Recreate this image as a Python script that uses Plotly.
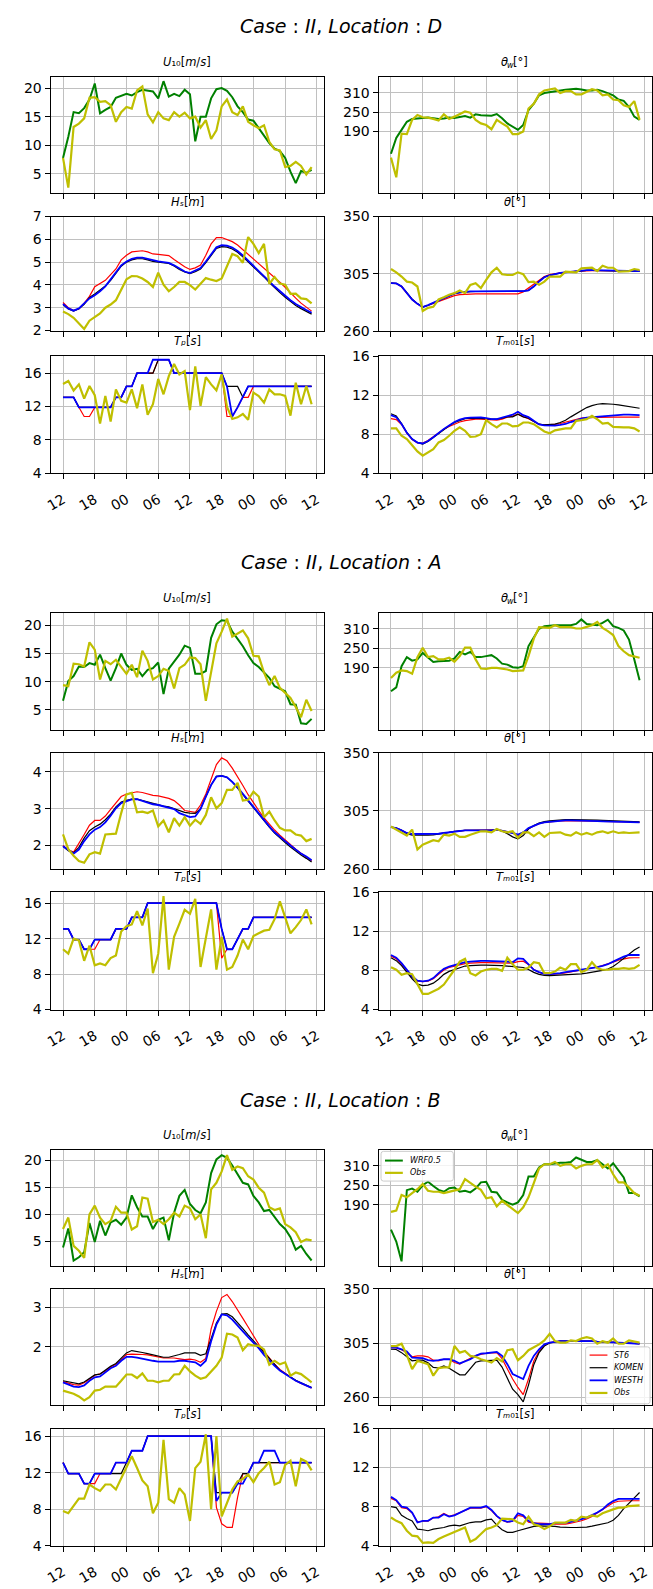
import plotly.graph_objects as go

# ---------------------------------------------------------------- time axis
HOURS = list(range(48))
TICK_HOURS = [0, 6, 12, 18, 24, 30, 36, 42, 48]
TICK_LABELS = ["12", "18", "00", "06", "12", "18", "00", "06", "12"]

# ---------------------------------------------------------------- Location D
D_u10_wrf = [7.8, 11.5, 15.8, 15.6, 16.5, 18.0, 20.8, 15.6, 16.2, 16.7,
             18.3, 18.6, 19.0, 18.7, 19.3, 19.7, 19.5, 19.4, 18.2, 21.2,
             18.5, 19.0, 18.6, 19.7, 18.9, 10.7, 15.0, 15.0, 18.2, 19.8,
             20.0, 19.5, 18.4, 16.8, 15.8, 14.5, 14.3, 13.0, 11.6, 10.4,
             9.4, 9.0, 7.8, 5.4, 3.4, 5.5, 5.2, 5.7]
D_u10_obs = [7.8, 2.6, 13.2, 13.8, 14.7, 18.3, 18.4, 17.6, 17.7, 17.0,
             14.1, 15.8, 16.7, 16.4, 19.6, 20.3, 15.4, 14.0, 15.8, 14.7,
             14.4, 15.8, 15.0, 15.7, 14.7, 15.0, 13.1, 14.4, 11.1, 12.6,
             16.8, 18.0, 15.8, 15.3, 16.8, 14.1, 13.5, 13.0, 13.5, 10.6,
             9.3, 9.1, 6.2, 6.4, 7.1, 6.4, 4.9, 6.2]
D_thw_wrf = [121, 170, 195, 220, 229, 230, 233, 233, 231, 229,
             230, 233, 232, 234, 238, 233, 243, 240, 239, 239,
             244, 231, 215, 205, 195, 210, 256, 276, 302, 309,
             312, 315, 317, 319, 321, 322, 320, 317, 317, 319,
             315, 309, 302, 289, 285, 266, 236, 226]
D_thw_obs = [109, 48, 183, 182, 226, 241, 234, 233, 229, 224,
             243, 229, 236, 244, 252, 248, 226, 215, 210, 197,
             226, 215, 205, 182, 182, 190, 261, 276, 305, 317,
             321, 323, 309, 315, 315, 305, 305, 313, 321, 317,
             302, 305, 289, 287, 271, 266, 284, 226]
D_hs_st6 = [3.23, 3.0, 2.88, 2.95, 3.2, 3.5, 3.92, 4.05, 4.2, 4.45,
            4.7, 5.1, 5.3, 5.45, 5.48, 5.5, 5.45, 5.36, 5.34, 5.3,
            5.29, 5.12, 4.95, 4.8, 4.68, 4.75, 4.87, 5.3, 5.8, 6.08,
            6.08, 6.0, 5.9, 5.75, 5.55, 5.35, 5.15, 4.95, 4.75, 4.55,
            4.35, 4.12, 3.9, 3.65, 3.42, 3.2, 3.02, 2.85]
D_hs_komen = [3.14, 2.95, 2.85, 2.95, 3.15, 3.45, 3.6, 3.76, 3.95, 4.2,
              4.5, 4.82, 5.0, 5.1, 5.15, 5.15, 5.1, 5.03, 5.0, 4.97,
              4.94, 4.83, 4.68, 4.57, 4.5, 4.58, 4.7, 4.98, 5.3, 5.6,
              5.68, 5.66, 5.58, 5.43, 5.23, 5.02, 4.8, 4.58, 4.35, 4.1,
              3.87, 3.66, 3.46, 3.27, 3.1, 2.96, 2.84, 2.72]
D_hs_westh = [3.16, 2.97, 2.87, 2.97, 3.19, 3.41, 3.55, 3.72, 3.94, 4.23,
              4.54, 4.86, 5.03, 5.14, 5.2, 5.2, 5.14, 5.07, 5.03, 5.0,
              4.97, 4.86, 4.71, 4.59, 4.52, 4.62, 4.74, 5.03, 5.36, 5.65,
              5.75, 5.72, 5.64, 5.49, 5.29, 5.07, 4.86, 4.64, 4.40, 4.16,
              3.93, 3.72, 3.52, 3.33, 3.16, 3.02, 2.90, 2.78]
D_hs_obs = [2.83, 2.72, 2.56, 2.32, 2.07, 2.43, 2.58, 2.75, 3.0, 3.14,
            3.33, 3.77, 4.25, 4.39, 4.38, 4.28, 4.13, 3.91, 4.54, 4.01,
            3.72, 3.91, 4.13, 4.13, 3.99, 3.8, 4.06, 4.3, 4.23, 4.17,
            4.28, 4.86, 5.36, 5.26, 4.97, 6.1, 5.8, 5.4, 5.8, 4.05,
            4.35, 4.06, 4.01, 3.61, 3.62, 3.41, 3.38, 3.19]
D_th_st6 = [297.8, 297.5, 295.0, 290.0, 285.0, 281.5, 279.0, 280.3, 281.8, 283.5,
            285.0, 286.5, 288.0, 288.8, 289.2, 289.3, 289.4, 289.4, 289.4, 289.3,
            289.3, 289.3, 289.4, 289.4, 289.4, 291.0, 294.0, 297.0, 300.0, 303.0,
            304.5, 305.3, 306.0, 306.5, 306.8, 307.1, 307.4, 307.6, 307.7, 307.7,
            307.7, 307.6, 307.5, 307.4, 307.4, 307.3, 307.2, 307.2]
D_th_komen = [297.9, 297.7, 295.5, 290.5, 285.3, 281.8, 279.2, 280.5, 282.2, 284.0,
              286.0, 287.8, 289.5, 290.4, 291.0, 291.2, 291.3, 291.3, 291.3, 291.3,
              291.3, 291.3, 291.3, 291.3, 291.3, 291.5, 292.2, 295.3, 299.2, 302.6,
              304.0, 305.0, 305.7, 306.2, 306.7, 307.2, 307.6, 307.8, 307.8, 307.7,
              307.6, 307.5, 307.4, 307.3, 307.2, 307.2, 307.1, 307.0]
D_th_westh = [297.8, 297.6, 295.2, 290.0, 285.0, 281.6, 279.0, 280.6, 282.4, 284.2,
              286.2, 288.0, 289.8, 290.6, 291.2, 291.4, 291.4, 291.4, 291.4, 291.4,
              291.4, 291.4, 291.4, 291.4, 291.4, 291.6, 292.2, 295.2, 299.0, 302.5,
              304.0, 305.0, 305.8, 306.3, 306.8, 307.3, 307.8, 308.0, 308.0, 307.9,
              307.8, 307.7, 307.6, 307.5, 307.5, 307.4, 307.3, 307.2]
D_th_obs = [308.9, 306.3, 303.0, 299.0, 298.3, 295.2, 276.0, 278.5, 279.3, 285.0,
            286.8, 288.8, 290.0, 292.0, 290.0, 296.5, 297.8, 294.0, 300.4, 306.3,
            309.9, 304.8, 304.2, 304.2, 306.3, 304.8, 298.6, 299.0, 296.5, 299.0,
            303.0, 303.0, 303.0, 306.8, 306.8, 306.3, 309.4, 309.4, 309.9, 307.3,
            311.4, 309.9, 309.9, 306.8, 307.3, 307.3, 308.9, 308.1]
D_tp_st6 = [13.1, 13.1, 13.1, 11.9, 10.8, 10.8, 11.9, 11.9, 11.9, 11.9,
            13.1, 13.1, 14.4, 14.4, 16.0, 16.0, 16.0, 16.0, 17.6, 17.6,
            17.6, 16.0, 16.0, 16.0, 16.0, 16.0, 16.0, 16.0, 16.0, 16.0,
            16.0, 10.8, 10.8, 11.9, 13.1, 13.1, 14.4, 14.4, 14.4, 14.4,
            14.4, 14.4, 14.4, 14.4, 14.4, 14.4, 14.4, 14.4]
D_tp_komen = [13.1, 13.1, 13.1, 11.9, 11.9, 11.9, 11.9, 11.9, 11.9, 11.9,
              13.1, 13.1, 14.4, 14.4, 16.0, 16.0, 16.0, 16.0, 17.6, 17.6,
              17.6, 16.0, 16.0, 16.0, 16.0, 16.0, 16.0, 16.0, 16.0, 16.0,
              16.0, 14.4, 14.4, 14.4, 13.1, 14.4, 14.4, 14.4, 14.4, 14.4,
              14.4, 14.4, 14.4, 14.4, 14.4, 14.4, 14.4, 14.4]
D_tp_westh = [13.1, 13.1, 13.1, 11.9, 11.9, 11.9, 11.9, 11.9, 11.9, 11.9,
              13.1, 13.1, 14.4, 14.4, 16.0, 16.0, 16.0, 17.6, 17.6, 17.6,
              17.6, 16.0, 16.0, 16.0, 16.0, 16.0, 16.0, 16.0, 16.0, 16.0,
              16.0, 14.4, 10.8, 11.9, 13.1, 14.4, 14.4, 14.4, 14.4, 14.4,
              14.4, 14.4, 14.4, 14.4, 14.4, 14.4, 14.4, 14.4]
D_tp_obs = [14.7, 15.05, 13.9, 14.65, 12.95, 14.45, 13.35, 9.97, 13.26, 10.2,
            14.05, 12.67, 12.47, 14.05, 11.8, 14.65, 11.0, 12.27, 15.3, 13.46,
            15.64, 17.1, 15.84, 16.24, 11.56, 16.8, 12.07, 15.52, 14.65, 13.94,
            15.84, 11.95, 10.5, 10.7, 11.1, 10.4, 13.66, 13.26, 12.47, 14.05,
            13.46, 13.46, 13.26, 10.9, 14.85, 12.27, 14.45, 12.27]
D_tm_st6 = [9.6, 9.5, 9.0, 8.1, 7.45, 7.1, 7.1, 7.35, 7.75, 8.15,
            8.5, 8.8, 9.05, 9.25, 9.4, 9.5, 9.55, 9.55, 9.5, 9.45,
            9.45, 9.55, 9.75, 9.85, 10.05, 9.8, 9.6, 9.3, 9.0, 8.95,
            8.95, 9.0, 9.1, 9.25, 9.4, 9.55, 9.65, 9.7, 9.72, 9.75,
            9.75, 9.75, 9.75, 9.75, 9.75, 9.75, 9.75, 9.75]
D_tm_komen = [10.1, 9.88, 9.1, 8.18, 7.5, 7.16, 7.0, 7.26, 7.67, 8.1,
              8.5, 8.86, 9.2, 9.44, 9.6, 9.64, 9.64, 9.64, 9.6, 9.54,
              9.54, 9.64, 9.78, 9.78, 10.05, 9.78, 9.64, 9.3, 9.03, 8.96,
              8.96, 9.03, 9.2, 9.44, 9.78, 10.1, 10.45, 10.73, 10.93, 11.07,
              11.13, 11.13, 11.07, 11.0, 10.9, 10.8, 10.73, 10.66]
D_tm_westh = [9.95, 9.75, 9.05, 8.15, 7.5, 7.15, 7.05, 7.3, 7.7, 8.15,
              8.55, 8.9, 9.25, 9.5, 9.65, 9.7, 9.72, 9.72, 9.65, 9.55,
              9.55, 9.7, 9.9, 10.0, 10.3, 9.95, 9.75, 9.35, 9.0, 8.9,
              8.88, 8.88, 8.95, 9.05, 9.25, 9.45, 9.6, 9.7, 9.75, 9.8,
              9.85, 9.9, 9.95, 10.0, 10.0, 10.0, 9.98, 9.95]
D_tm_obs = [8.6, 8.6, 7.84, 7.5, 6.88, 6.24, 5.8, 6.14, 6.48, 7.16,
            7.4, 7.84, 8.35, 8.7, 8.35, 7.74, 7.77, 8.0, 9.44, 9.03,
            8.7, 9.1, 9.1, 8.8, 8.86, 9.2, 9.2, 9.03, 8.7, 8.28,
            8.1, 8.4, 8.5, 8.6, 8.6, 9.37, 9.44, 9.54, 9.88, 9.54,
            9.1, 9.16, 8.75, 8.7, 8.7, 8.7, 8.6, 8.28]

# ---------------------------------------------------------------- Location A
A_u10_wrf = [6.6, 10.1, 11.0, 12.7, 12.6, 13.3, 13.0, 14.8, 12.4, 10.2,
             12.4, 15.0, 13.0, 12.1, 12.3, 11.0, 12.1, 12.4, 13.4, 7.8,
             12.3, 13.6, 14.8, 16.4, 16.0, 11.4, 11.4, 11.9, 17.8, 20.2,
             20.9, 20.8, 18.9, 17.6, 16.3, 14.7, 13.3, 12.6, 11.6, 10.7,
             9.2, 8.8, 8.3, 6.0, 5.9, 2.6, 2.5, 3.4]
A_u10_obs = [9.4, 9.2, 13.2, 13.1, 12.7, 17.0, 15.7, 10.4, 13.7, 13.1,
             13.9, 12.6, 11.4, 13.0, 10.8, 15.5, 13.7, 10.4, 11.0, 12.3,
             11.9, 8.8, 12.4, 13.0, 14.3, 14.2, 13.1, 6.6, 11.6, 16.8,
             18.9, 21.2, 18.0, 18.6, 19.1, 17.7, 14.6, 14.5, 11.6, 9.4,
             11.0, 8.9, 8.0, 7.1, 5.5, 3.7, 6.8, 4.8]
A_thw_wrf = [118, 130, 195, 223, 212, 216, 236, 223, 208, 210,
             210, 212, 219, 239, 231, 239, 223, 223, 226, 229,
             219, 203, 200, 192, 190, 195, 257, 282, 310, 318,
             320, 321, 321, 321, 321, 325, 339, 325, 323, 321,
             328, 338, 318, 313, 305, 277, 216, 152]
A_thw_obs = [159, 175, 182, 180, 172, 223, 252, 223, 226, 216,
             216, 221, 209, 226, 252, 252, 216, 188, 187, 190,
             190, 188, 185, 180, 180, 182, 226, 280, 315, 313,
             313, 321, 315, 315, 315, 311, 311, 316, 321, 331,
             313, 303, 291, 257, 241, 229, 225, 221]
A_hs_st6 = [2.0, 1.88, 1.82, 2.05, 2.3, 2.55, 2.68, 2.68, 2.8, 2.98,
            3.15, 3.33, 3.4, 3.43, 3.46, 3.44, 3.4, 3.36, 3.35, 3.32,
            3.28, 3.22, 3.1, 2.95, 2.92, 2.9, 3.1, 3.4, 3.8, 4.2,
            4.38, 4.3, 4.1, 3.88, 3.63, 3.38, 3.15, 2.95, 2.75, 2.58,
            2.42, 2.28, 2.15, 2.02, 1.9, 1.79, 1.69, 1.58]
A_hs_komen = [1.98, 1.86, 1.8, 1.95, 2.2, 2.4, 2.5, 2.58, 2.7, 2.85,
              3.05, 3.18, 3.23, 3.26, 3.26, 3.22, 3.18, 3.13, 3.1, 3.07,
              3.05, 3.0, 2.93, 2.9, 2.88, 2.87, 3.0, 3.35, 3.65, 3.88,
              3.9, 3.85, 3.72, 3.56, 3.38, 3.2, 3.02, 2.84, 2.66, 2.5,
              2.34, 2.2, 2.08, 1.96, 1.84, 1.74, 1.65, 1.55]
A_hs_westh = [1.98, 1.87, 1.78, 1.89, 2.12, 2.3, 2.43, 2.5, 2.63, 2.81,
              3.01, 3.15, 3.21, 3.25, 3.26, 3.21, 3.17, 3.12, 3.1, 3.06,
              3.04, 2.99, 2.88, 2.83, 2.77, 2.79, 2.99, 3.33, 3.64, 3.87,
              3.89, 3.85, 3.73, 3.58, 3.4, 3.22, 3.04, 2.86, 2.68, 2.52,
              2.36, 2.23, 2.12, 2.0, 1.89, 1.78, 1.7, 1.6]
A_hs_obs = [2.3, 1.9, 1.72, 1.58, 1.53, 1.76, 1.82, 1.78, 2.3, 2.3,
            2.32, 2.88, 3.39, 3.43, 2.9, 2.92, 2.88, 2.95, 2.52, 2.68,
            2.36, 2.74, 2.54, 2.77, 2.54, 2.7, 2.59, 2.83, 3.31, 3.01,
            3.15, 3.51, 3.51, 3.7, 3.22, 3.24, 3.46, 3.33, 2.77, 2.92,
            2.68, 2.48, 2.41, 2.41, 2.3, 2.27, 2.12, 2.18]
A_th_st6 = [292.6, 291.8, 290.0, 288.0, 287.4, 287.4, 287.4, 287.4, 287.4, 287.5,
            288.0, 288.5, 289.3, 289.8, 290.0, 290.0, 290.0, 290.0, 290.0, 290.0,
            290.5, 289.8, 288.8, 288.0, 285.5, 288.0, 291.5, 293.6, 295.2, 296.2,
            296.7, 297.2, 297.4, 297.6, 297.6, 297.6, 297.6, 297.6, 297.4, 297.2,
            297.0, 296.9, 296.8, 296.7, 296.6, 296.5, 296.4, 296.3]
A_th_komen = [292.6, 291.8, 290.0, 287.5, 286.3, 286.2, 286.2, 286.3, 286.5, 287.0,
              287.8, 288.5, 289.3, 289.8, 290.0, 290.0, 290.0, 290.0, 290.0, 290.0,
              290.6, 289.5, 287.5, 285.0, 283.4, 286.0, 291.0, 293.8, 295.6, 296.8,
              297.4, 297.8, 298.0, 298.3, 298.3, 298.3, 298.3, 298.3, 298.1, 297.9,
              297.7, 297.5, 297.3, 297.1, 297.0, 296.8, 296.7, 296.6]
A_th_westh = [292.6, 291.8, 290.0, 288.0, 287.2, 287.2, 287.2, 287.2, 287.2, 287.4,
              288.0, 288.5, 289.3, 289.8, 290.0, 290.0, 290.0, 290.0, 290.0, 290.0,
              290.6, 289.8, 288.8, 288.0, 286.7, 288.5, 291.8, 293.6, 295.2, 296.2,
              296.7, 297.2, 297.4, 297.7, 297.7, 297.7, 297.7, 297.7, 297.4, 297.2,
              297.0, 296.9, 296.8, 296.6, 296.5, 296.4, 296.3, 296.2]
A_th_obs = [293.0, 290.6, 288.0, 286.0, 290.6, 275.3, 279.0, 281.0, 282.4, 281.6,
            286.7, 286.0, 287.5, 285.0, 285.0, 286.7, 288.0, 289.3, 289.3, 288.5,
            291.0, 289.3, 288.5, 289.3, 284.2, 288.5, 288.5, 285.5, 288.5, 285.0,
            288.0, 288.0, 288.5, 286.7, 286.0, 288.5, 286.7, 288.0, 286.7, 288.5,
            289.3, 288.0, 289.3, 288.0, 288.5, 288.0, 288.5, 288.5]
A_tp_st6 = [13.1, 13.1, 11.9, 11.9, 10.8, 10.8, 10.8, 11.9, 11.9, 11.9,
            13.1, 13.1, 13.1, 14.4, 14.4, 14.4, 16.0, 16.0, 16.0, 16.0,
            16.0, 16.0, 16.0, 16.0, 16.0, 16.0, 16.0, 16.0, 16.0, 16.0,
            9.8, 10.8, 10.8, 11.9, 13.1, 13.1, 14.4, 14.4, 14.4, 14.4,
            14.4, 14.4, 14.4, 14.4, 14.4, 14.4, 14.4, 14.4]
A_tp_komen = [13.1, 13.1, 11.9, 11.9, 10.8, 10.8, 11.9, 11.9, 11.9, 11.9,
              13.1, 13.1, 13.1, 14.4, 14.4, 14.4, 16.0, 16.0, 16.0, 16.0,
              16.0, 16.0, 16.0, 16.0, 16.0, 16.0, 16.0, 16.0, 16.0, 16.0,
              13.1, 10.8, 10.8, 11.9, 13.1, 13.1, 14.4, 14.4, 14.4, 14.4,
              14.4, 14.4, 14.4, 14.4, 14.4, 14.4, 14.4, 14.4]
A_tp_westh = [13.1, 13.1, 11.9, 11.9, 10.8, 10.8, 11.9, 11.9, 11.9, 11.9,
              13.1, 13.1, 13.1, 14.4, 14.4, 14.4, 16.0, 16.0, 16.0, 16.0,
              16.0, 16.0, 16.0, 16.0, 16.0, 16.0, 16.0, 16.0, 16.0, 16.0,
              13.1, 10.8, 10.8, 11.9, 13.1, 13.1, 14.4, 14.4, 14.4, 14.4,
              14.4, 14.4, 14.4, 14.4, 14.4, 14.4, 14.4, 14.4]
A_tp_obs = [10.8, 10.3, 12.0, 11.8, 9.5, 11.2, 9.0, 9.2, 9.0, 9.8,
            10.1, 12.8, 13.4, 13.6, 15.1, 13.5, 15.4, 8.1, 10.3, 16.8,
            8.5, 12.2, 13.7, 15.25, 14.8, 16.5, 8.8, 12.2, 15.3, 8.5,
            12.2, 8.5, 8.8, 10.1, 11.9, 10.8, 12.3, 12.6, 12.9, 13.0,
            14.2, 16.2, 14.4, 12.6, 13.3, 14.1, 15.3, 13.6]
A_tm_st6 = [9.45, 9.2, 8.65, 8.0, 7.35, 6.9, 6.85, 6.9, 7.15, 7.6,
            8.05, 8.3, 8.45, 8.6, 8.7, 8.75, 8.8, 8.8, 8.8, 8.8,
            8.8, 8.8, 8.8, 8.75, 8.9, 8.95, 8.6, 8.1, 7.8, 7.65,
            7.6, 7.62, 7.68, 7.76, 7.85, 7.95, 8.05, 8.15, 8.25, 8.35,
            8.5, 8.65, 8.85, 9.05, 9.2, 9.28, 9.3, 9.3]
A_tm_komen = [9.3, 9.0, 8.5, 7.8, 7.15, 6.6, 6.45, 6.5, 6.7, 7.1,
              7.6, 7.9, 8.1, 8.3, 8.45, 8.5, 8.55, 8.55, 8.55, 8.55,
              8.55, 8.5, 8.45, 8.4, 8.35, 8.3, 8.1, 7.8, 7.6, 7.5,
              7.48, 7.5, 7.55, 7.58, 7.6, 7.6, 7.65, 7.72, 7.8, 7.9,
              8.0, 8.15, 8.4, 8.8, 9.25, 9.7, 10.1, 10.4]
A_tm_westh = [9.58, 9.3, 8.74, 8.07, 7.4, 6.95, 6.88, 6.95, 7.22, 7.72,
              8.16, 8.4, 8.57, 8.74, 8.84, 8.9, 8.97, 8.97, 8.97, 8.97,
              8.97, 8.9, 8.9, 8.84, 9.24, 9.18, 8.57, 8.07, 7.83, 7.66,
              7.62, 7.66, 7.72, 7.83, 7.89, 7.96, 8.07, 8.16, 8.23, 8.33,
              8.47, 8.64, 8.9, 9.18, 9.41, 9.58, 9.58, 9.58]
A_tm_obs = [8.33, 8.07, 7.55, 7.72, 7.62, 6.55, 5.6, 5.6, 5.86, 6.13,
            6.55, 7.28, 8.07, 8.9, 9.18, 7.72, 7.49, 7.89, 8.07, 8.16,
            8.16, 7.96, 9.31, 8.64, 8.07, 8.07, 8.3, 8.84, 8.74, 7.72,
            7.72, 7.89, 8.3, 8.07, 8.64, 8.64, 7.83, 8.07, 8.84, 8.23,
            8.07, 8.07, 8.16, 8.16, 8.23, 8.16, 8.23, 8.57]

# ---------------------------------------------------------------- Location B
B_u10_wrf = [3.9, 7.4, 1.5, 2.1, 3.0, 8.4, 4.9, 8.8, 6.1, 8.5,
             9.0, 8.1, 9.4, 13.5, 11.3, 9.6, 9.6, 7.3, 9.0, 9.4,
             5.2, 10.3, 13.4, 14.5, 11.9, 10.8, 10.2, 12.2, 17.6, 20.1,
             20.9, 20.4, 19.0, 17.5, 15.8, 15.5, 13.4, 12.2, 10.6, 10.8,
             9.4, 8.2, 7.3, 5.8, 3.5, 4.2, 2.7, 1.5]
B_u10_obs = [7.3, 9.4, 4.2, 3.3, 2.0, 10.0, 11.6, 9.4, 8.2, 8.8,
             11.4, 10.3, 10.3, 7.2, 7.8, 13.1, 12.9, 8.6, 9.0, 8.2,
             9.1, 10.3, 9.6, 11.6, 11.1, 9.1, 10.0, 5.6, 14.6, 15.8,
             17.9, 20.9, 18.2, 18.8, 18.5, 17.0, 16.4, 14.9, 14.0, 11.3,
             10.8, 11.1, 8.2, 7.6, 6.7, 4.9, 5.4, 5.2]
B_thw_wrf = [113, 76, 15, 235, 240, 230, 250, 261, 248, 236,
             230, 241, 243, 230, 233, 228, 240, 259, 261, 230,
             228, 205, 197, 190, 197, 220, 277, 277, 305, 315,
             315, 318, 320, 320, 322, 336, 328, 322, 322, 328,
             315, 302, 318, 295, 274, 226, 226, 216]
B_thw_obs = [168, 172, 220, 213, 226, 238, 254, 233, 230, 230,
             226, 230, 233, 238, 269, 257, 246, 236, 210, 213,
             185, 202, 189, 175, 164, 182, 213, 257, 302, 315,
             315, 322, 310, 315, 315, 302, 310, 315, 315, 328,
             305, 315, 284, 259, 259, 243, 226, 218]
B_hs_st6 = [1.11, 1.07, 1.03, 1.02, 1.08, 1.17, 1.27, 1.31, 1.38, 1.48,
            1.55, 1.67, 1.8, 1.81, 1.81, 1.8, 1.79, 1.76, 1.73, 1.71,
            1.71, 1.71, 1.69, 1.67, 1.68, 1.66, 1.6, 1.7, 2.45, 2.9,
            3.25, 3.33, 3.15, 2.95, 2.72, 2.5, 2.28, 2.06, 1.88, 1.7,
            1.55, 1.42, 1.32, 1.22, 1.13, 1.06, 1.0, 0.95]
B_hs_komen = [1.13, 1.1, 1.07, 1.05, 1.1, 1.18, 1.28, 1.3, 1.4, 1.5,
              1.57, 1.7, 1.84, 1.9, 1.88, 1.85, 1.82, 1.79, 1.76, 1.73,
              1.73, 1.76, 1.8, 1.84, 1.84, 1.84, 1.78, 1.82, 2.2, 2.6,
              2.83, 2.84, 2.76, 2.62, 2.46, 2.3, 2.15, 2.0, 1.84, 1.68,
              1.53, 1.4, 1.31, 1.22, 1.14, 1.08, 1.02, 0.96]
B_hs_westh = [1.09, 1.03, 0.98, 0.97, 1.01, 1.13, 1.22, 1.24, 1.34, 1.45,
              1.51, 1.64, 1.74, 1.74, 1.72, 1.69, 1.66, 1.64, 1.62, 1.62,
              1.62, 1.62, 1.64, 1.64, 1.62, 1.6, 1.51, 1.64, 2.14, 2.56,
              2.82, 2.8, 2.69, 2.55, 2.39, 2.24, 2.1, 1.96, 1.79, 1.64,
              1.51, 1.39, 1.3, 1.22, 1.13, 1.07, 1.01, 0.95]
B_hs_obs = [0.88, 0.84, 0.8, 0.73, 0.63, 0.71, 0.88, 0.9, 0.98, 0.98,
            0.98, 1.13, 1.29, 1.29, 1.2, 1.32, 1.13, 1.13, 1.09, 1.13,
            1.13, 1.29, 1.3, 1.51, 1.37, 1.26, 1.18, 1.22, 1.37, 1.51,
            1.72, 2.33, 2.31, 2.23, 1.91, 2.06, 2.03, 2.02, 1.93, 1.54,
            1.64, 1.55, 1.6, 1.26, 1.34, 1.3, 1.2, 1.09]
B_th_st6 = [301.2, 300.9, 299.5, 297.0, 293.5, 294.3, 294.3, 293.5, 290.7, 290.2,
            291.5, 291.5, 288.8, 287.5, 290.0, 292.5, 294.5, 295.5, 296.5, 296.8,
            297.0, 292.0, 283.0, 275.0, 268.0, 262.0, 275.0, 290.0, 298.0, 303.0,
            305.3, 306.0, 306.6, 306.6, 306.6, 306.6, 307.2, 307.2, 306.6, 306.1,
            306.1, 306.1, 305.5, 305.3, 305.0, 304.7, 304.4, 304.4]
B_th_komen = [299.8, 299.6, 297.0, 293.5, 290.2, 290.7, 290.7, 288.5, 284.7, 284.2,
              286.0, 284.0, 281.0, 278.5, 278.5, 284.0, 289.0, 290.2, 290.2, 290.7,
              290.7, 285.0, 275.0, 266.5, 262.0, 256.0, 270.0, 287.0, 297.0, 302.5,
              305.0, 306.0, 306.6, 306.6, 306.6, 306.6, 307.2, 307.2, 306.6, 306.1,
              306.1, 306.1, 305.5, 305.3, 305.0, 304.7, 304.4, 304.4]
B_th_westh = [301.2, 301.2, 299.8, 297.9, 292.9, 292.9, 292.4, 290.7, 290.2, 290.7,
              291.5, 291.5, 290.2, 288.0, 289.6, 291.5, 294.3, 296.2, 296.5, 296.8,
              297.6, 294.3, 287.4, 279.2, 277.0, 275.0, 286.0, 294.3, 299.8, 303.9,
              305.3, 306.1, 306.6, 306.6, 306.6, 306.6, 307.2, 307.2, 306.6, 306.1,
              306.1, 306.1, 305.5, 305.3, 305.0, 304.7, 304.4, 304.4]
B_th_obs = [302.5, 302.5, 304.4, 295.1, 283.3, 290.2, 288.8, 287.4, 277.8, 284.1,
            284.7, 284.7, 302.5, 297.0, 298.4, 294.3, 293.5, 291.5, 290.2, 288.8,
            292.4, 289.6, 299.0, 299.8, 290.7, 294.3, 299.0, 301.2, 303.9, 307.2,
            312.7, 306.6, 305.3, 305.3, 307.2, 306.6, 308.8, 309.9, 308.8, 304.4,
            306.6, 305.3, 308.8, 304.4, 304.4, 307.2, 306.1, 305.3]
B_tp_st6 = [13.1, 11.9, 11.9, 11.9, 10.8, 10.8, 10.8, 11.9, 11.9, 11.9,
            13.1, 13.1, 13.1, 14.4, 14.4, 14.4, 16.0, 16.0, 16.0, 16.0,
            16.0, 16.0, 16.0, 16.0, 16.0, 16.0, 16.0, 16.0, 16.0, 8.2,
            6.4, 6.0, 6.0, 9.3, 11.9, 11.9, 13.1, 13.1, 13.1, 13.1,
            13.1, 13.1, 13.1, 13.1, 13.1, 13.1, 13.1, 13.1]
B_tp_komen = [13.1, 11.9, 11.9, 11.9, 10.8, 10.8, 11.9, 11.9, 11.9, 11.9,
              11.9, 11.9, 13.1, 14.4, 14.4, 14.4, 16.0, 16.0, 16.0, 16.0,
              16.0, 16.0, 16.0, 16.0, 16.0, 16.0, 16.0, 16.0, 16.0, 9.8,
              9.8, 9.8, 9.8, 10.8, 11.9, 11.9, 13.1, 13.1, 13.1, 13.1,
              13.1, 13.1, 13.1, 13.1, 13.1, 13.1, 13.1, 13.1]
B_tp_westh = [13.1, 11.9, 11.9, 11.9, 10.8, 10.8, 11.9, 11.9, 11.9, 11.9,
              13.1, 13.1, 13.1, 14.4, 14.4, 14.4, 16.0, 16.0, 16.0, 16.0,
              16.0, 16.0, 16.0, 16.0, 16.0, 16.0, 16.0, 16.0, 16.0, 8.9,
              9.8, 9.8, 9.8, 10.8, 10.8, 11.9, 13.1, 13.1, 14.4, 14.4,
              14.4, 13.1, 13.1, 13.1, 13.1, 13.1, 13.1, 13.1]
B_tp_obs = [7.8, 7.55, 8.35, 9.15, 9.15, 10.7, 10.3, 10.0, 10.7, 10.7,
            10.15, 11.4, 12.5, 13.8, 12.5, 11.15, 10.5, 7.55, 8.7, 15.6,
            9.1, 8.7, 10.3, 9.6, 6.7, 12.5, 13.2, 16.2, 8.0, 16.0,
            7.2, 8.7, 10.15, 11.05, 11.3, 11.8, 10.95, 11.95, 12.5, 13.2,
            10.7, 10.95, 12.85, 13.3, 10.5, 13.5, 13.2, 12.25]
B_tm_st6 = [8.85, 8.6, 7.9, 7.8, 7.35, 6.45, 6.5, 6.5, 6.85, 6.95,
            7.3, 7.0, 7.15, 7.4, 7.65, 7.85, 7.85, 7.85, 8.0, 7.6,
            7.0, 6.6, 6.4, 6.5, 7.1, 7.0, 6.4, 6.3, 6.3, 6.3,
            6.25, 6.2, 6.2, 6.2, 6.3, 6.4, 6.55, 6.75, 7.0, 7.35,
            7.7, 8.1, 8.4, 8.55, 8.6, 8.6, 8.6, 8.6]
B_tm_komen = [8.0, 7.9, 7.11, 6.78, 6.54, 5.7, 5.63, 5.53, 5.7, 5.76,
              5.86, 6.03, 6.1, 6.03, 6.2, 6.37, 6.44, 6.44, 6.64, 6.71,
              6.1, 5.63, 5.36, 5.36, 5.53, 5.7, 5.86, 5.97, 6.03, 6.03,
              6.03, 5.97, 5.9, 5.86, 5.86, 5.86, 5.86, 5.9, 6.0, 6.1,
              6.2, 6.35, 6.6, 7.1, 7.8, 8.4, 8.9, 9.45]
B_tm_westh = [9.0, 8.67, 8.0, 7.9, 7.39, 6.37, 6.54, 6.54, 6.88, 6.88,
              7.22, 6.98, 7.11, 7.39, 7.66, 7.9, 7.9, 7.9, 8.06, 7.66,
              7.05, 6.64, 6.44, 6.54, 7.32, 7.11, 6.54, 6.3, 6.2, 6.2,
              6.2, 6.3, 6.3, 6.37, 6.44, 6.54, 6.71, 6.88, 7.11, 7.39,
              7.72, 8.23, 8.57, 8.8, 8.8, 8.8, 8.8, 8.8]
B_tm_obs = [6.88, 6.54, 6.3, 5.53, 5.02, 4.95, 4.28, 4.34, 4.28, 4.68,
            4.95, 5.19, 5.43, 5.7, 5.86, 4.41, 4.68, 5.19, 5.7, 5.86,
            6.1, 6.78, 6.78, 6.71, 6.37, 6.2, 6.98, 6.2, 6.03, 5.7,
            5.97, 6.37, 6.37, 6.37, 6.64, 6.54, 6.98, 6.88, 7.11, 6.98,
            7.32, 7.55, 7.72, 7.9, 7.9, 8.06, 8.06, 8.13]

# ---------------------------------------------------------------- structure
LOCATIONS = ["D", "A", "B"]
DATA = {
    "D": {"u10": [("wrf", D_u10_wrf), ("obs", D_u10_obs)],
          "thw": [("wrf", D_thw_wrf), ("obs", D_thw_obs)],
          "hs": [("st6", D_hs_st6), ("komen", D_hs_komen), ("westh", D_hs_westh), ("obs", D_hs_obs)],
          "th": [("st6", D_th_st6), ("komen", D_th_komen), ("westh", D_th_westh), ("obs", D_th_obs)],
          "tp": [("st6", D_tp_st6), ("komen", D_tp_komen), ("westh", D_tp_westh), ("obs", D_tp_obs)],
          "tm": [("st6", D_tm_st6), ("komen", D_tm_komen), ("westh", D_tm_westh), ("obs", D_tm_obs)]},
    "A": {"u10": [("wrf", A_u10_wrf), ("obs", A_u10_obs)],
          "thw": [("wrf", A_thw_wrf), ("obs", A_thw_obs)],
          "hs": [("st6", A_hs_st6), ("komen", A_hs_komen), ("westh", A_hs_westh), ("obs", A_hs_obs)],
          "th": [("st6", A_th_st6), ("komen", A_th_komen), ("westh", A_th_westh), ("obs", A_th_obs)],
          "tp": [("st6", A_tp_st6), ("komen", A_tp_komen), ("westh", A_tp_westh), ("obs", A_tp_obs)],
          "tm": [("st6", A_tm_st6), ("komen", A_tm_komen), ("westh", A_tm_westh), ("obs", A_tm_obs)]},
    "B": {"u10": [("wrf", B_u10_wrf), ("obs", B_u10_obs)],
          "thw": [("wrf", B_thw_wrf), ("obs", B_thw_obs)],
          "hs": [("st6", B_hs_st6), ("komen", B_hs_komen), ("westh", B_hs_westh), ("obs", B_hs_obs)],
          "th": [("st6", B_th_st6), ("komen", B_th_komen), ("westh", B_th_westh), ("obs", B_th_obs)],
          "tp": [("st6", B_tp_st6), ("komen", B_tp_komen), ("westh", B_tp_westh), ("obs", B_tp_obs)],
          "tm": [("st6", B_tm_st6), ("komen", B_tm_komen), ("westh", B_tm_westh), ("obs", B_tm_obs)]},
}

Y_RANGES = {
    "D": {"u10": [1.7, 22.0], "thw": [0, 360], "hs": [1.96, 7.0], "th": [260, 350], "tp": [4, 18.03], "tm": [4, 16]},
    "A": {"u10": [1.48, 22.28], "thw": [0, 360], "hs": [1.355, 4.52], "th": [260, 350], "tp": [4, 17.23], "tm": [4, 16]},
    "B": {"u10": [0.45, 21.9], "thw": [0, 360], "hs": [0.5, 3.47], "th": [253, 350], "tp": [4, 16.83], "tm": [4, 16]},
}
Y_TICKS = {
    "u10": [5, 10, 15, 20], "thw": [190, 250, 310], "th": [260, 305, 350],
    "tp": [4, 8, 12, 16], "tm": [4, 8, 12, 16],
}
HS_TICKS = {"D": [2, 3, 4, 5, 6, 7], "A": [2, 3, 4], "B": [2, 3]}

# panel titles; the wind-direction title is composed from pieces below
TITLES = {
    "u10": "<i>U</i>\u2081\u2080[<i>m</i>/<i>s</i>]",
    "hs": "<i>H\u209b</i>[<i>m</i>]",
    "th": "<i>θ</i>[°]",
    "tp": "<i>T\u209a</i>[<i>s</i>]",
    "tm": "<i>T\u2098</i>\u2080\u2081[<i>s</i>]",
}
STYLE = {
    "wrf": ("#008000", 2.0, "WRF0.5"),
    "obs": ("#bfbf00", 2.2, "Obs"),
    "st6": ("#ff0000", 1.2, "ST6"),
    "komen": ("#000000", 1.2, "KOMEN"),
    "westh": ("#0000ff", 1.8, "WESTH"),
}

# page geometry in pixels
W, H = 653, 1589
COLS = [(45, 321), (376, 652)]
ROWS = {
    "D": [(69.3, 186.7), (210.7, 326.7), (351.7, 470.0)],
    "A": [(610.7, 729.0), (752.3, 870.0), (893.3, 1011.7)],
    "B": [(1153.3, 1271.0), (1294.0, 1411.7), (1435.0, 1553.3)],
}
HEADER_Y = {"D": 18, "A": 560, "B": 1103}
PANELS = [("u10", 0, 0), ("thw", 0, 1), ("hs", 1, 0), ("th", 1, 1), ("tp", 2, 0), ("tm", 2, 1)]

# legend boxes (left, top, right, bottom) in pixels, and their entries
LEGENDS = [
    {"keys": ["wrf", "obs"], "box": (378.5, 1155.0, 451.5, 1185.0), "first": 1164.3, "step": 12.4},
    {"keys": ["st6", "komen", "westh", "obs"], "box": (585.0, 1352.5, 650.0, 1410.0), "first": 1360.8, "step": 12.75},
]

FONT = "DejaVu Sans"
TITLE_SIZE = 11.5


def px(x):
    return x / W


def py(y):
    return 1 - y / H


def text_note(text, x, y, size, xanchor="center", yshift=0):
    return dict(text=text, x=px(x), y=py(y), xref="paper", yref="paper",
                xanchor=xanchor, yanchor="middle", yshift=yshift, showarrow=False,
                font=dict(family=FONT, size=size, color="black"))


fig = go.Figure()
layout = {}
annotations = []
shapes = []

k = 0
for loc in LOCATIONS:
    annotations.append(text_note(
        f"<i>Case</i> : <i>II</i>, <i>Location</i> : <i>{loc}</i>",
        338, HEADER_Y[loc], 19))
    for var, r, c in PANELS:
        k += 1
        top, bot = ROWS[loc][r]
        x0, x1 = COLS[c]
        suffix = "" if k == 1 else str(k)
        xref, yref = "x" + suffix, "y" + suffix
        bottom_row = (r == 2)
        layout["xaxis" + suffix] = dict(
            domain=[px(x0), px(x1)], anchor=yref, range=[-2.35, 49.35],
            tickmode="array", tickvals=TICK_HOURS, ticktext=TICK_LABELS,
            showticklabels=bottom_row, tickangle=-30, ticklabelstandoff=7,
            ticks="outside", ticklen=5, tickwidth=1, tickcolor="black",
            showgrid=True, gridcolor="#c0c0c0", gridwidth=1,
            showline=True, linecolor="black", linewidth=1, mirror=True,
            zeroline=False, tickfont=dict(family=FONT, size=14, color="black"))
        yticks = HS_TICKS[loc] if var == "hs" else Y_TICKS[var]
        layout["yaxis" + suffix] = dict(
            domain=[py(bot), py(top)], anchor=xref, range=Y_RANGES[loc][var],
            tickmode="array", tickvals=yticks,
            ticks="outside", ticklen=5, tickwidth=1, tickcolor="black",
            showgrid=True, gridcolor="#c0c0c0", gridwidth=1,
            showline=True, linecolor="black", linewidth=1, mirror=True,
            zeroline=False, tickfont=dict(family=FONT, size=14, color="black"))

        cx, ty = (x0 + x1) / 2, top - 15
        if var == "thw":
            # θ, a lowered small w, then [°]
            annotations.append(text_note("<i>θ</i>", cx - 5, ty, TITLE_SIZE, xanchor="right"))
            annotations.append(text_note("<i>w</i>", cx - 10, ty, 8, xanchor="left", yshift=-4))
            annotations.append(text_note("[°]", cx - 4.5, ty, TITLE_SIZE, xanchor="left"))
        else:
            annotations.append(text_note(TITLES[var], cx, ty, TITLE_SIZE))

        for key, values in DATA[loc][var]:
            color, width, label = STYLE[key]
            fig.add_trace(go.Scatter(
                x=HOURS[:len(values)], y=values, mode="lines", name=label,
                line=dict(color=color, width=width),
                xaxis=xref, yaxis=yref, showlegend=False))

# compact legends inside the lower location's direction panels
for leg in LEGENDS:
    l, t, rgt, b = leg["box"]
    rad = 2.5
    path = (f"M {px(l + rad)},{py(t)} L {px(rgt - rad)},{py(t)} "
            f"Q {px(rgt)},{py(t)} {px(rgt)},{py(t + rad)} L {px(rgt)},{py(b - rad)} "
            f"Q {px(rgt)},{py(b)} {px(rgt - rad)},{py(b)} L {px(l + rad)},{py(b)} "
            f"Q {px(l)},{py(b)} {px(l)},{py(b - rad)} L {px(l)},{py(t + rad)} "
            f"Q {px(l)},{py(t)} {px(l + rad)},{py(t)} Z")
    shapes.append(dict(type="path", path=path, xref="paper", yref="paper",
                       fillcolor="rgba(255,255,255,0.8)",
                       line=dict(color="#cccccc", width=1), layer="above"))
    for i, key in enumerate(leg["keys"]):
        color, width, label = STYLE[key]
        yy = leg["first"] + i * leg["step"]
        shapes.append(dict(type="line", xref="paper", yref="paper",
                           x0=px(l + 4), x1=px(l + 22), y0=py(yy), y1=py(yy),
                           line=dict(color=color, width=width), layer="above"))
        annotations.append(text_note(f"<i>{label}</i>", l + 27, yy, 8, xanchor="left"))

fig.update_layout(
    width=W, height=H, autosize=False,
    margin=dict(l=0, r=0, t=0, b=0),
    paper_bgcolor="white", plot_bgcolor="white",
    showlegend=False,
    annotations=annotations, shapes=shapes,
    **layout)

# keep the page itself free of default body spacing
fig.write_html(
    "out.html",
    post_script="document.documentElement.style.margin='0';"
                "document.body.style.margin='0';document.body.style.padding='0';")
